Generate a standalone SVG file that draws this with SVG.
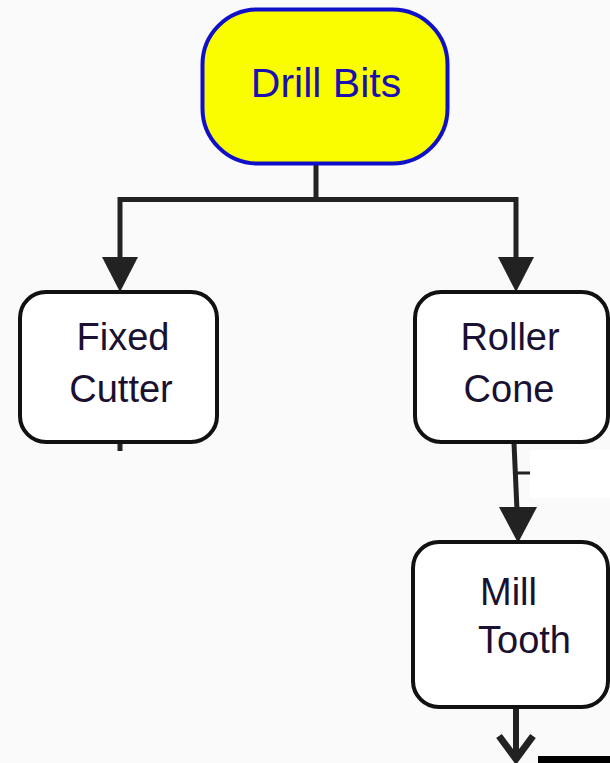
<svg xmlns="http://www.w3.org/2000/svg" width="610" height="763" viewBox="0 0 610 763">
  <style>
    .box { fill: #ffffff; stroke: #111111; stroke-width: 4; }
    .lbl { font-family: "Liberation Sans", Arial, sans-serif; font-size: 38px; fill: #1a1030; }
    .conn { stroke: #222222; stroke-width: 5; fill: none; }
    .head { fill: #222222; }
  </style>
  <rect x="0" y="0" width="610" height="763" fill="#fafafa"/>
  <rect x="530" y="450" width="80" height="48" fill="#ffffff"/>

  <g id="connectors">
    <polyline class="conn" points="316,165 316,199.5 120,199.5 120,262"/>
    <polyline class="conn" points="316,199.5 516,199.5 516,262"/>
    <polygon class="head" points="102,257 138,257 120,292"/>
    <polygon class="head" points="498,257 534,257 516,292"/>
    <line class="conn" x1="120" y1="443" x2="120" y2="451"/>
    <polyline class="conn" points="514,443 517,510"/>
    <line class="conn" x1="516" y1="473" x2="530" y2="473" style="stroke-width:3"/>
    <polygon class="head" points="499,507 537,507 518,543"/>
    <line class="conn" x1="516" y1="707" x2="516" y2="760" style="stroke-width:6"/>
    <polyline class="conn" points="499,736 516,759 533,736" style="stroke-width:7"/>
    <line x1="538" y1="759.5" x2="610" y2="759.5" stroke="#000000" stroke-width="7"/>
  </g>

  <g id="drill-bits">
    <rect x="202.5" y="9.5" width="245" height="154" rx="55" ry="55" fill="#fafc00" stroke="#1010c8" stroke-width="4"/>
    <text x="326" y="97" text-anchor="middle" font-family="'Liberation Sans', Arial, sans-serif" font-size="41" fill="#1a10b0">Drill Bits</text>
  </g>

  <g id="fixed-cutter">
    <rect class="box" x="20" y="292" width="197" height="150" rx="26" ry="26"/>
    <text class="lbl" x="123" y="350" text-anchor="middle">Fixed</text>
    <text class="lbl" x="121" y="402" text-anchor="middle">Cutter</text>
  </g>

  <g id="roller-cone">
    <rect class="box" x="415" y="292" width="193" height="150" rx="26" ry="26"/>
    <text class="lbl" x="510" y="350" text-anchor="middle">Roller</text>
    <text class="lbl" x="509" y="402" text-anchor="middle">Cone</text>
  </g>

  <g id="mill-tooth">
    <rect class="box" x="413" y="542" width="195" height="165" rx="26" ry="26"/>
    <text class="lbl" x="480" y="605">Mill</text>
    <text class="lbl" x="478" y="653">Tooth</text>
  </g>
</svg>
